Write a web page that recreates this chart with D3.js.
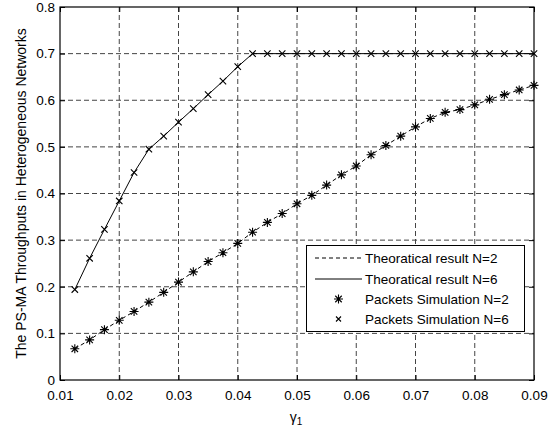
<!DOCTYPE html>
<html>
<head>
<meta charset="utf-8">
<script src="https://cdn.jsdelivr.net/npm/d3@7"></script>
<style>
  body { margin: 0; background: #fff; }
  svg text { font-family: "Liberation Sans", Arial, sans-serif; fill: #000; }
</style>
</head>
<body>
<svg id="chart" width="552" height="433"></svg>
<script>
// gamma_1 sample points
const gammaN2 = [0.0125, 0.015, 0.0175, 0.02, 0.0225, 0.025, 0.0275, 0.03, 0.0325, 0.035, 0.0375, 0.04,
                 0.0425, 0.045, 0.0475, 0.05, 0.0525, 0.055, 0.0575, 0.06, 0.0625, 0.065, 0.0675, 0.07,
                 0.0725, 0.075, 0.0775, 0.08, 0.0825, 0.085, 0.0875, 0.09];
const throughputN2 = [0.067, 0.086, 0.108, 0.128, 0.147, 0.167, 0.188, 0.210, 0.232, 0.254, 0.273, 0.293,
                      0.317, 0.338, 0.357, 0.378, 0.396, 0.418, 0.440, 0.459, 0.483, 0.503, 0.523, 0.543,
                      0.561, 0.574, 0.580, 0.590, 0.602, 0.612, 0.622, 0.632];
const gammaN6 = gammaN2;
const throughputN6 = [0.194, 0.261, 0.323, 0.384, 0.445, 0.495, 0.523, 0.553, 0.582, 0.612, 0.641, 0.672,
                      0.700, 0.700, 0.700, 0.700, 0.700, 0.700, 0.700, 0.700, 0.700, 0.700, 0.700, 0.700,
                      0.700, 0.700, 0.700, 0.700, 0.700, 0.700, 0.700, 0.700];
const xTicks = [0.01, 0.02, 0.03, 0.04, 0.05, 0.06, 0.07, 0.08, 0.09];
const yTicks = [0, 0.1, 0.2, 0.3, 0.4, 0.5, 0.6, 0.7, 0.8];
const legendLabels = ["Theoratical result N=2", "Theoratical result N=6", "Packets Simulation N=2", "Packets Simulation N=6"];

const svg = d3.select("#chart");
const plotLeft = 60, plotRight = 534, plotTop = 7, plotBottom = 380;

const x = d3.scaleLinear().domain([0.01, 0.09]).range([plotLeft, plotRight]);
const y = d3.scaleLinear().domain([0, 0.8]).range([plotBottom, plotTop]);

// grid
const grid = svg.append("g").attr("stroke", "#444").attr("stroke-width", 1).attr("stroke-dasharray", "5,3");
xTicks.slice(1, -1).forEach(t => {
  grid.append("line").attr("x1", x(t)).attr("x2", x(t)).attr("y1", plotTop).attr("y2", plotBottom);
});
yTicks.slice(1, -1).forEach(t => {
  grid.append("line").attr("x1", plotLeft).attr("x2", plotRight).attr("y1", y(t)).attr("y2", y(t));
});

// axes with inward ticks on all four sides
svg.append("g").attr("transform", `translate(0,${plotBottom})`)
  .call(d3.axisBottom(x).tickValues(xTicks).tickSizeInner(-5).tickSizeOuter(0).tickPadding(10).tickFormat(d3.format(".2f")));
svg.append("g").attr("transform", `translate(0,${plotTop})`)
  .call(d3.axisTop(x).tickValues(xTicks).tickSizeInner(-5).tickSizeOuter(0).tickFormat(""));
svg.append("g").attr("transform", `translate(${plotLeft},0)`)
  .call(d3.axisLeft(y).tickValues(yTicks).tickSizeInner(-5).tickSizeOuter(0).tickPadding(5).tickFormat(d => d === 0 ? "0" : d3.format(".1f")(d)));
svg.append("g").attr("transform", `translate(${plotRight},0)`)
  .call(d3.axisRight(y).tickValues(yTicks).tickSizeInner(-5).tickSizeOuter(0).tickFormat(""));
svg.selectAll(".domain").remove();
svg.selectAll(".tick line").attr("stroke", "#000");
svg.selectAll(".tick text").style("font-size", "13.5px").style("font-family", "Liberation Sans, Arial, sans-serif");

svg.append("rect").attr("x", plotLeft).attr("y", plotTop).attr("width", plotRight - plotLeft).attr("height", plotBottom - plotTop)
  .attr("fill", "none").attr("stroke", "#000").attr("stroke-width", 1.2);

// lines
const line = d3.line().x(d => x(d[0])).y(d => y(d[1]));
const dataN2 = gammaN2.map((g, i) => [g, throughputN2[i]]);
const dataN6 = gammaN6.map((g, i) => [g, throughputN6[i]]);

svg.append("path").datum(dataN2).attr("d", line).attr("fill", "none")
  .attr("stroke", "#000").attr("stroke-width", 1).attr("stroke-dasharray", "4,3");
svg.append("path").datum(dataN6).attr("d", line).attr("fill", "none")
  .attr("stroke", "#000").attr("stroke-width", 1);

function star(g, cx, cy, r) {
  const d = r * 0.72;
  g.append("path").attr("fill", "none").attr("stroke", "#000").attr("stroke-width", 1.1)
    .attr("d", `M${cx - r},${cy}H${cx + r}M${cx},${cy - r}V${cy + r}` +
      `M${cx - d},${cy - d}L${cx + d},${cy + d}M${cx - d},${cy + d}L${cx + d},${cy - d}`);
}
function cross(g, cx, cy, r) {
  g.append("path").attr("fill", "none").attr("stroke", "#000").attr("stroke-width", 1.1)
    .attr("d", `M${cx - r},${cy - r}L${cx + r},${cy + r}M${cx - r},${cy + r}L${cx + r},${cy - r}`);
}

const markers = svg.append("g");
dataN2.forEach(d => star(markers, x(d[0]), y(d[1]), 4.5));
dataN6.forEach(d => cross(markers, x(d[0]), y(d[1]), 3.2));

// legend
const lg = svg.append("g");
lg.append("rect").attr("x", 306.5).attr("y", 245.5).attr("width", 218).attr("height", 86)
  .attr("fill", "#fff").attr("stroke", "#000").attr("stroke-width", 1);
const rowY = [258, 279, 299, 319];
legendLabels.forEach((lab, i) => {
  const yy = rowY[i];
  if (i === 0) lg.append("line").attr("x1", 315).attr("x2", 362).attr("y1", yy).attr("y2", yy)
    .attr("stroke", "#000").attr("stroke-dasharray", "4,3");
  if (i === 1) lg.append("line").attr("x1", 315).attr("x2", 362).attr("y1", yy).attr("y2", yy).attr("stroke", "#000");
  if (i === 2) star(lg, 338.5, yy, 4.5);
  if (i === 3) cross(lg, 338.5, yy, 2.5);
  lg.append("text").attr("x", 365).attr("y", yy).attr("dy", "0.35em").style("font-size", "13.5px").text(lab);
});

// axis labels
const xl = svg.append("text").attr("x", 296).attr("y", 422).attr("text-anchor", "middle").style("font-size", "14px");
xl.append("tspan").text("γ");
xl.append("tspan").attr("dy", 3).style("font-size", "10px").text("1");

svg.append("text").attr("transform", `translate(26,${(plotTop + plotBottom) / 2}) rotate(-90)`)
  .attr("text-anchor", "middle").style("font-size", "14px")
  .text("The PS-MA Throughputs in Heterogeneous Networks");
</script>
</body>
</html>
